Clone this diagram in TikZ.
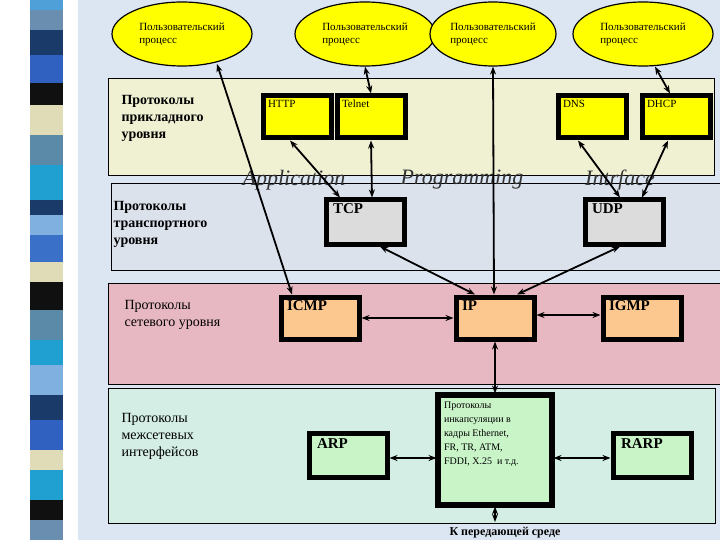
\documentclass[tikz,border=0pt]{standalone}
\usepackage{fontspec}
\setmainfont{Liberation Serif}
\usetikzlibrary{arrows.meta,shapes.geometric}
\definecolor{bgblue}{HTML}{DCE6F2}
\definecolor{appc}{HTML}{F0F0D2}
\definecolor{trc}{HTML}{DCE2EC}
\definecolor{netc}{HTML}{E8B8C2}
\definecolor{ifc}{HTML}{D4EEE6}
\definecolor{ylw}{HTML}{FFFF00}
\definecolor{orng}{HTML}{FCC890}
\definecolor{grn}{HTML}{C8F4C8}
\definecolor{gry}{HTML}{DCDCDC}
\tikzset{
 lay/.style={draw=black,line width=0.6pt},
 proc/.style={ellipse,draw=black,line width=1.2pt,fill=ylw,minimum width=140pt,minimum height=64pt,font=\fontsize{11}{13}\selectfont,align=left,inner sep=0pt},
 pbox/.style={draw=black,line width=5pt,minimum width=#1,minimum height=42pt,inner sep=0pt},
 tl/.style={font=\fontsize{11}{12}\selectfont},
 tb/.style={font=\bfseries\fontsize{15}{16}\selectfont},
 ll/.style={font=\bfseries\fontsize{14}{17}\selectfont,align=left,anchor=north west},
 big/.style={font=\itshape\fontsize{22}{23}\selectfont,text=black!80},
 arr/.style={{Stealth[length=8pt,width=6pt]}-{Stealth[length=8pt,width=6pt]},line width=1.8pt},
}
\begin{document}
\begin{tikzpicture}[x=1pt,y=-1pt]
\useasboundingbox (0,0) rectangle (720,540);
\fill[white] (0,0) rectangle (720,540);
\fill[bgblue] (78,0) rectangle (720,540);
% stripe
\foreach \a/\b/\c in {0/10/4FA0D8,10/30/6A8EB0,30/55/1A3A6A,55/83/3060C0,83/105/101010,105/135/E0DCB8,135/165/5A8AA8,165/200/20A0D0,200/215/1A3A6A,215/235/80B0E0,235/262/3A70C8,262/282/E0DCB8,282/310/101010,310/340/5A8AA8,340/365/20A0D0,365/395/80B0E0,395/420/1A3A6A,420/450/3060C0,450/470/E0DCB8,470/500/20A0D0,500/520/101010,520/540/6A8EB0}
 {\definecolor{sc}{HTML}{\c}\fill[sc] (30,\a) rectangle (63,\b);}
% layers
\filldraw[lay,fill=appc] (108,78) rectangle (714,175);
\filldraw[lay,fill=trc] (111,183) rectangle (720,270);
\filldraw[lay,fill=netc] (108,283) rectangle (720,384);
\filldraw[lay,fill=ifc] (108,388) rectangle (715,523);
% layer labels
\node[ll] (l1) at (118,92) {Протоколы\\прикладного\\уровня};
\node[ll] (l2) at (110,198) {Протоколы\\транспортного\\уровня};
\node[ll,font=\fontsize{14}{17}\selectfont] (l3) at (121,297) {Протоколы\\сетевого уровня};
\node[ll,font=\fontsize{14}{17}\selectfont] (l4) at (118,410) {Протоколы\\межсетевых\\интерфейсов};
% processes
\node[proc] (e1) at (182,34) {Пользовательский\\процесс};
\node[proc] (e2) at (365,34) {Пользовательский\\процесс};
\node[proc,minimum width=126pt] (e3) at (493,34) {Пользовательский\\процесс};
\node[proc] (e4) at (643,34) {Пользовательский\\процесс};
% app boxes
\node[pbox=68pt,fill=ylw] (http) at (297,117) {};
\node[tl,anchor=north west] at ([xshift=4pt,yshift=-3pt]http.north west) {HTTP};
\node[pbox=68pt,fill=ylw] (tel) at (371,117) {};
\node[tl,anchor=north west] at ([xshift=4pt,yshift=-3pt]tel.north west) {Telnet};
\node[pbox=68pt,fill=ylw] (dns) at (592,117) {};
\node[tl,anchor=north west] at ([xshift=4pt,yshift=-3pt]dns.north west) {DNS};
\node[pbox=68pt,fill=ylw] (dhcp) at (676,117) {};
\node[tl,anchor=north west] at ([xshift=4pt,yshift=-3pt]dhcp.north west) {DHCP};
% big italic
\node[big] at (294,180) {Application};
\node[big] at (462,180) {Programming};
\node[big] at (620,180) {Intrface};
% transport
\node[pbox=78pt,minimum height=44pt,fill=gry] (tcp) at (365,222) {};
\node[tb,anchor=north west] at ([xshift=6pt,yshift=-3pt]tcp.north west) {TCP};
\node[pbox=78pt,minimum height=44pt,fill=gry] (udp) at (624,222) {};
\node[tb,anchor=north west] at ([xshift=6pt,yshift=-3pt]udp.north west) {UDP};
% network
\node[pbox=78pt,fill=orng] (icmp) at (320,318) {};
\node[tb,anchor=north west] at ([xshift=5pt,yshift=-3pt]icmp.north west) {ICMP};
\node[pbox=78pt,fill=orng] (ip) at (495,318) {};
\node[tb,anchor=north west] at ([xshift=5pt,yshift=-3pt]ip.north west) {IP};
\node[pbox=78pt,fill=orng] (igmp) at (642,318) {};
\node[tb,anchor=north west] at ([xshift=5pt,yshift=-3pt]igmp.north west) {IGMP};
% interface
\node[pbox=78pt,minimum height=44pt,fill=grn] (arp) at (348,455) {};
\node[tb,anchor=north west] at ([xshift=7pt,yshift=-5pt]arp.north west) {ARP};
\node[draw=black,line width=3pt,double=black,fill=grn,minimum width=114pt,minimum height=110pt,inner sep=0pt] (enc) at (495,450) {};
\node[tl,anchor=north west,align=left,font=\fontsize{10}{14}\selectfont] at ([xshift=4pt,yshift=-5pt]enc.north west) {Протоколы\\инкапсуляции в\\кадры Ethernet,\\FR, TR, ATM,\\FDDI, X.25 \ и т.д.};
\node[pbox=78pt,minimum height=44pt,fill=grn] (rarp) at (652,455) {};
\node[tb,anchor=north west] at ([xshift=7pt,yshift=-5pt]rarp.north west) {RARP};
\coordinate (med) at (495,522);
\node[font=\bfseries\fontsize{12}{13}\selectfont] (medl) at (505,533) {К передающей среде};
% connectors
\draw[arr] (e1) ++(35,30) -- ([xshift=-28pt]icmp.north);
\draw[arr] ([xshift=-7pt]http.south) -- ([xshift=-25pt]tcp.north);
\draw[arr] (e2.south) -- (tel.north);
\draw[arr] (tel.south) -- ([xshift=7pt]tcp.north);
\draw[arr] (e3.south) -- ([xshift=-1pt]ip.north);
\draw[arr] ([xshift=12pt]e4.south) -- ([xshift=-6pt]dhcp.north);
\draw[arr] ([xshift=-14pt]dns.south) -- ([xshift=-4pt]udp.north);
\draw[arr] ([xshift=-8pt]dhcp.south) -- ([xshift=18pt]udp.north);
\draw[arr] ([xshift=15pt]tcp.south) -- ([xshift=-20pt]ip.north);
\draw[arr] ([xshift=-4pt]udp.south) -- ([xshift=22pt]ip.north);
\draw[arr] (icmp.east) -- (ip.west);
\draw[arr] ([yshift=3pt]ip.east) -- ([yshift=3pt]igmp.west);
\draw[arr] (ip.south) -- (enc.north);
\draw[arr] ([yshift=-3pt]arp.east) -- ([yshift=-3pt]arp.east -| enc.west);
\draw[arr] ([yshift=-3pt]rarp.west -| enc.east) -- ([yshift=-3pt]rarp.west);
\draw[arr] (enc.south) -- (med);
\end{tikzpicture}
\end{document}
